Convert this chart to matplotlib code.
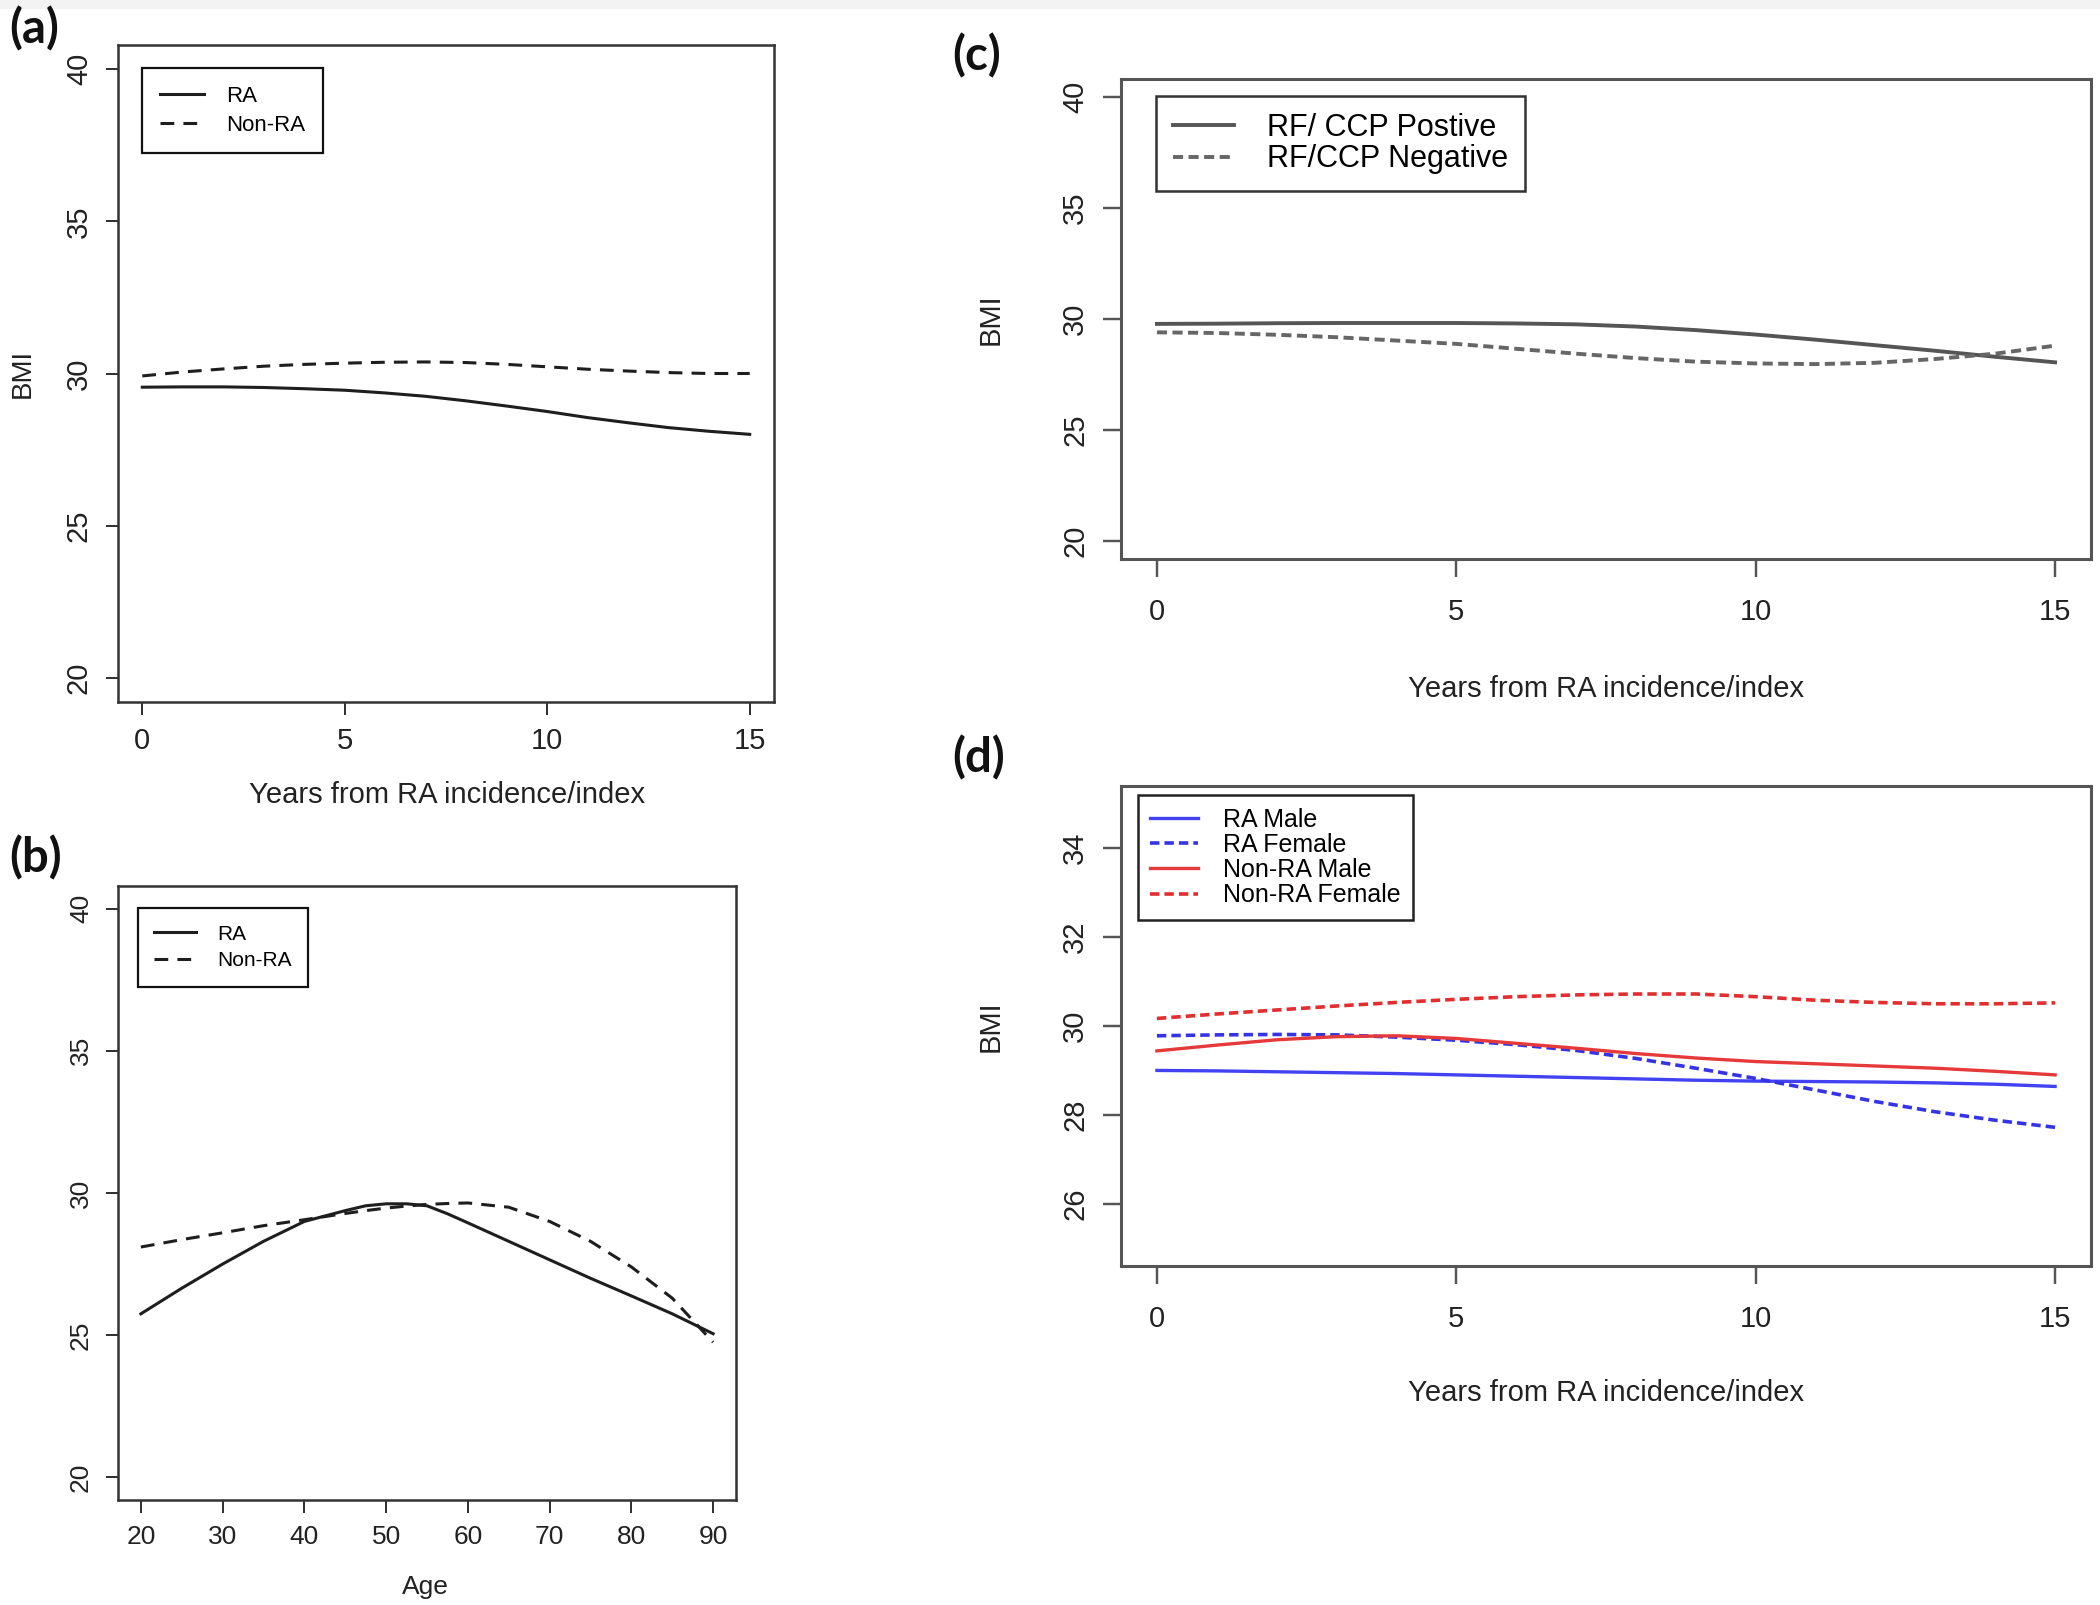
import matplotlib
matplotlib.use("Agg")
import matplotlib.pyplot as plt
from matplotlib.patches import Rectangle

# ---------------- data ----------------
years = list(range(0, 16))
ages = [20, 25, 30, 35, 40, 45, 47.5, 50, 52.5, 55, 57.5, 60, 65, 70, 75, 80, 85, 90]

a_ra = [29.55, 29.56, 29.56, 29.54, 29.50, 29.45, 29.36, 29.25, 29.10, 28.93,
        28.75, 28.55, 28.38, 28.22, 28.10, 28.00]
a_nonra = [29.92, 30.05, 30.15, 30.24, 30.30, 30.34, 30.37, 30.38, 30.36, 30.30,
           30.22, 30.14, 30.08, 30.03, 30.00, 30.00]

b_ra = [25.75, 26.65, 27.50, 28.30, 29.00, 29.38, 29.55, 29.62, 29.62, 29.55,
        29.27, 28.95, 28.30, 27.65, 27.00, 26.38, 25.75, 25.05]
b_nonra = [28.10, 28.36, 28.60, 28.85, 29.06, 29.28, 29.38, 29.47, 29.54, 29.60,
           29.63, 29.65, 29.50, 29.00, 28.30, 27.40, 26.30, 24.75]

c_pos = [29.78, 29.79, 29.81, 29.82, 29.82, 29.82, 29.80, 29.76, 29.66, 29.50,
         29.30, 29.07, 28.82, 28.57, 28.30, 28.05]
c_neg = [29.40, 29.37, 29.29, 29.18, 29.03, 28.88, 28.66, 28.44, 28.24, 28.08,
         28.00, 27.97, 28.03, 28.20, 28.44, 28.80]

d_ra_male = [29.00, 28.99, 28.97, 28.95, 28.93, 28.90, 28.87, 28.84, 28.81, 28.78,
             28.76, 28.75, 28.74, 28.72, 28.69, 28.64]
d_ra_female = [29.78, 29.80, 29.81, 29.80, 29.75, 29.68, 29.58, 29.45, 29.27, 29.05,
               28.82, 28.56, 28.30, 28.07, 27.88, 27.72]
d_nonra_male = [29.44, 29.57, 29.69, 29.76, 29.78, 29.72, 29.61, 29.50, 29.38, 29.28,
                29.20, 29.15, 29.10, 29.05, 28.98, 28.90]
d_nonra_female = [30.17, 30.27, 30.36, 30.45, 30.53, 30.60, 30.66, 30.70, 30.72, 30.72,
                  30.66, 30.58, 30.53, 30.50, 30.50, 30.52]

x_ticks_years = [0, 5, 10, 15]
x_ticks_age = [20, 30, 40, 50, 60, 70, 80, 90]
y_ticks_main = [20, 25, 30, 35, 40]
y_ticks_d = [26, 28, 30, 32, 34]

xlabel_years = "Years from RA incidence/index"
panel_labels = ["(a)", "(b)", "(c)", "(d)"]

# ---------------- style ----------------
plt.rcParams['font.family'] = ['Liberation Sans', 'DejaVu Sans']
W, H = 2100, 1605
fig = plt.figure(figsize=(W / 100, H / 100), dpi=100)
fig.patches.append(Rectangle((0, 1 - 9 / H), 1, 9 / H, transform=fig.transFigure,
                             facecolor='#f3f3f3', edgecolor='none', zorder=-5))


def px_axes(left, top, right, bottom):
    return fig.add_axes([left / W, 1 - bottom / H, (right - left) / W, (bottom - top) / H])


def r_range(lo, hi):
    pad = (hi - lo) * 0.04
    return lo - pad, hi + pad


def style_axes(ax, spine_col, spine_w, tick_len, tick_fs, xpad, ypad):
    for s in ax.spines.values():
        s.set_color(spine_col)
        s.set_linewidth(spine_w)
    ax.tick_params(direction='out', length=tick_len, width=spine_w * 0.8,
                   color=spine_col, labelsize=tick_fs, labelcolor='#222222')
    ax.tick_params(axis='x', pad=xpad)
    ax.tick_params(axis='y', pad=ypad)


def label_text(ax, x, y, s, fs, rot=0):
    ax.text(x, y, s, transform=ax.transAxes, ha='center', va='center',
            fontsize=fs, rotation=rot, color='#222222')


# ---------------- (a) ----------------
axa = px_axes(118, 45, 774, 702)
axa.plot(years, a_ra, color='#1e1e1e', lw=2.2, label='RA')
axa.plot(years, a_nonra, color='#1e1e1e', lw=2.2, dashes=(4.5, 3), label='Non-RA')
axa.set_xlim(*r_range(0, 15))
axa.set_ylim(*r_range(20, 40))
axa.set_xticks(x_ticks_years)
axa.set_yticks(y_ticks_main, labels=[str(v) for v in y_ticks_main], rotation=90, va='center')
style_axes(axa, '#333333', 1.8, 9, 21, 9, 9)
label_text(axa, 0.501, -0.142, xlabel_years, 21)
label_text(axa, -0.145, 0.50, "BMI", 20, rot=90)
axa.legend(loc='upper left', bbox_to_anchor=(0.0366, 0.965), borderaxespad=0,
           fancybox=False, edgecolor='#111111', framealpha=1, fontsize=16,
           handlelength=2.0, handletextpad=1.0, borderpad=0.8, labelspacing=0.35
           ).get_frame().set_linewidth(1.6)

# ---------------- (b) ----------------
axb = px_axes(118, 886, 736, 1500)
axb.plot(ages, b_ra, color='#1e1e1e', lw=2.2, label='RA')
axb.plot(ages, b_nonra, color='#1e1e1e', lw=2.2, dashes=(4.5, 3), label='Non-RA')
axb.set_xlim(*r_range(20, 90))
axb.set_ylim(*r_range(20, 40))
axb.set_xticks(x_ticks_age)
axb.set_yticks(y_ticks_main, labels=[str(v) for v in y_ticks_main], rotation=90, va='center')
style_axes(axb, '#333333', 1.8, 9, 19, 9, 9)
label_text(axb, 0.498, -0.142, "Age", 19)
axb.legend(loc='upper left', bbox_to_anchor=(0.032, 0.964), borderaxespad=0,
           fancybox=False, edgecolor='#111111', framealpha=1, fontsize=15,
           handlelength=2.0, handletextpad=1.0, borderpad=0.8, labelspacing=0.35
           ).get_frame().set_linewidth(1.6)

# ---------------- (c) ----------------
axc = px_axes(1121, 79, 2091, 559)
axc.plot(years, c_pos, color='#555555', lw=2.8, label='RF/ CCP Postive')
axc.plot(years, c_neg, color='#666666', lw=2.8, dashes=(2.6, 1.4), label='RF/CCP Negative')
axc.set_xlim(*r_range(0, 15))
axc.set_ylim(*r_range(20, 40))
axc.set_xticks(x_ticks_years)
axc.set_yticks(y_ticks_main, labels=[str(v) for v in y_ticks_main], rotation=90, va='center')
style_axes(axc, '#555555', 2.2, 13, 21, 15, 10)
label_text(axc, 0.50, -0.27, xlabel_years, 21)
label_text(axc, -0.134, 0.50, "BMI", 21, rot=90)
axc.legend(loc='upper left', bbox_to_anchor=(0.036, 0.9646), borderaxespad=0,
           fancybox=False, edgecolor='#333333', framealpha=1, fontsize=22,
           handlelength=2.0, handletextpad=1.1, borderpad=0.55, labelspacing=0.05
           ).get_frame().set_linewidth(1.8)

# ---------------- (d) ----------------
axd = px_axes(1121, 786, 2091, 1266)
axd.plot(years, d_ra_male, color='#4242f2', lw=2.4, label='RA Male')
axd.plot(years, d_ra_female, color='#3434e6', lw=2.6, dashes=(2.6, 1.4), label='RA Female')
axd.plot(years, d_nonra_male, color='#e63a3a', lw=2.4, label='Non-RA Male')
axd.plot(years, d_nonra_female, color='#e22e2e', lw=2.6, dashes=(2.6, 1.4), label='Non-RA Female')
axd.set_xlim(*r_range(0, 15))
axd.set_ylim(*r_range(25, 35))
axd.set_xticks(x_ticks_years)
axd.set_yticks(y_ticks_d, labels=[str(v) for v in y_ticks_d], rotation=90, va='center')
style_axes(axd, '#555555', 2.2, 13, 21, 15, 10)
label_text(axd, 0.50, -0.265, xlabel_years, 21)
label_text(axd, -0.134, 0.50, "BMI", 21, rot=90)
axd.legend(loc='upper left', bbox_to_anchor=(0.0175, 0.981), borderaxespad=0,
           fancybox=False, edgecolor='#222222', framealpha=1, fontsize=18,
           handlelength=1.9, handletextpad=1.0, borderpad=0.5, labelspacing=0.05
           ).get_frame().set_linewidth(1.8)

# ---------------- panel labels ----------------
lab_pos = [(9, 29), (9, 858), (952, 56), (952, 758)]
for s, (x, y) in zip(panel_labels, lab_pos):
    fig.text(x / W, 1 - y / H, s, ha='left', va='center', fontsize=34,
             fontweight='bold', family=['Lato', 'DejaVu Sans'], color='#111111')

fig.savefig("out.png", dpi=100, facecolor='white')
